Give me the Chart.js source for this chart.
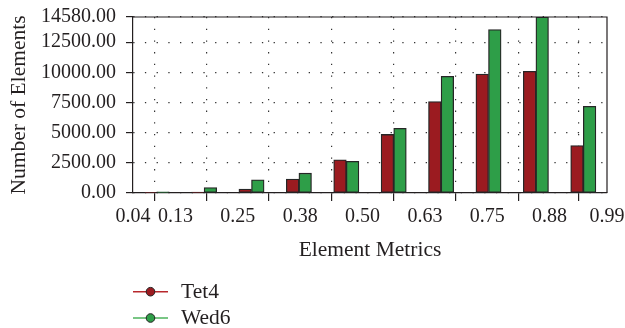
<!DOCTYPE html>
<html>
<head>
<meta charset="utf-8">
<script src="https://cdn.jsdelivr.net/npm/chart.js@4.4.1/dist/chart.umd.min.js"></script>
<style>
  html, body { margin: 0; padding: 0; background: #fff; }
  #wrap { width: 625px; height: 328px; position: relative; }
</style>
</head>
<body>
<div id="wrap"><canvas id="c" width="625" height="328"></canvas></div>
<script>
// ---- data ----
const binCenters = [0.0875, 0.1825, 0.2775, 0.3725, 0.4675, 0.5625, 0.6575, 0.7525, 0.8475, 0.9425];
const tet4 = [40, 80, 320, 1160, 2750, 4850, 7570, 9860, 10080, 3930];
const wed6 = [100, 450, 1090, 1640, 2620, 5360, 9670, 13540, 14580, 7180];
const xTickValues = [0.04, 0.125, 0.25, 0.375, 0.5, 0.625, 0.75, 0.875, 0.99];
const yTickValues = [0, 2500, 5000, 7500, 10000, 12500, 14580];
const seriesNames = ['Tet4', 'Wed6'];
const seriesFill = ['#9b1b20', '#2e9e48'];
const seriesLine = ['#b8282c', '#4cb35c'];

const FONT = "'Liberation Serif', 'Times New Roman', serif";
const TXT = '#231f20';

const frameAndLegend = {
  id: 'frameAndLegend',
  afterDatasetsDraw(chart) {
    const {ctx, chartArea: a} = chart;
    ctx.save();
    ctx.strokeStyle = '#231f20';
    ctx.lineWidth = 1.2;
    ctx.beginPath();
    ctx.moveTo(a.left, a.top);
    ctx.lineTo(a.right, a.top);
    ctx.lineTo(a.right, a.bottom);
    ctx.stroke();
    ctx.restore();
  },
  afterDraw(chart) {
    const {ctx} = chart;
    ctx.save();
    chart.data.datasets.forEach((ds, i) => {
      const y = 291.7 + i * 26.3;
      ctx.strokeStyle = ds.legendLine;
      ctx.lineWidth = 1.5;
      ctx.beginPath();
      ctx.moveTo(133, y);
      ctx.lineTo(168, y);
      ctx.stroke();
      ctx.beginPath();
      ctx.arc(150.5, y, 4.3, 0, Math.PI * 2);
      ctx.fillStyle = ds.backgroundColor;
      ctx.fill();
      ctx.strokeStyle = '#222';
      ctx.lineWidth = 1;
      ctx.stroke();
      ctx.fillStyle = TXT;
      ctx.font = "21.5px " + FONT;
      ctx.textBaseline = 'alphabetic';
      ctx.textAlign = 'left';
      ctx.fillText(ds.label, 181, y + 5.8);
    });
    ctx.restore();
  }
};

new Chart(document.getElementById('c'), {
  type: 'bar',
  data: {
    datasets: seriesNames.map((name, i) => ({
      label: name,
      data: binCenters.map((x, j) => ({x: x, y: (i === 0 ? tet4 : wed6)[j]})),
      backgroundColor: seriesFill[i],
      borderColor: '#262626',
      borderWidth: 1.3,
      borderSkipped: false,
      legendLine: seriesLine[i],
      barThickness: 12.6
    }))
  },
  options: {
    responsive: false,
    animation: false,
    layout: { padding: { left: 0, right: 18, top: 17, bottom: 55 } },
    plugins: { legend: { display: false }, tooltip: { enabled: false } },
    scales: {
      x: {
        type: 'linear',
        min: 0.04,
        max: 0.99,
        offset: false,
        afterBuildTicks(scale) { scale.ticks = xTickValues.map(v => ({value: v})); },
        afterFit(scale) { scale.height = 80; scale.paddingLeft = 0; scale.paddingRight = 0; },
        ticks: {
          autoSkip: false, maxRotation: 0, minRotation: 0,
          padding: 4,
          color: TXT,
          font: { family: FONT, size: 20 },
          callback: v => Number(v).toFixed(2)
        },
        grid: {
          color: '#333', lineWidth: 1.2,
          drawTicks: true, tickLength: 8, tickColor: '#231f20', tickBorderDash: [], tickWidth: 1.2
        },
        border: { display: true, color: '#231f20', width: 1.2, dash: [1.3, 10.4] },
        title: {
          display: true, text: 'Element Metrics', color: TXT,
          font: { family: FONT, size: 21.5 }, padding: { top: 0, bottom: 10 }
        }
      },
      y: {
        type: 'linear',
        min: 0,
        max: 14580,
        afterBuildTicks(scale) { scale.ticks = yTickValues.map(v => ({value: v})); },
        afterFit(scale) { scale.width = 133; scale.paddingTop = 0; scale.paddingBottom = 0; },
        ticks: {
          padding: 10,
          color: TXT,
          font: { family: FONT, size: 20 },
          callback: v => Number(v).toFixed(2)
        },
        grid: {
          color: '#333', lineWidth: 1.2,
          drawTicks: true, tickLength: 7, tickColor: '#231f20', tickBorderDash: [], tickWidth: 1.2
        },
        border: { display: true, color: '#231f20', width: 1.2, dash: [1.3, 10.4] },
        title: {
          display: true, text: 'Number of Elements', color: TXT,
          font: { family: FONT, size: 21.5 }, padding: { top: 6, bottom: 0 }
        }
      }
    }
  },
  plugins: [frameAndLegend]
});
</script>
</body>
</html>
